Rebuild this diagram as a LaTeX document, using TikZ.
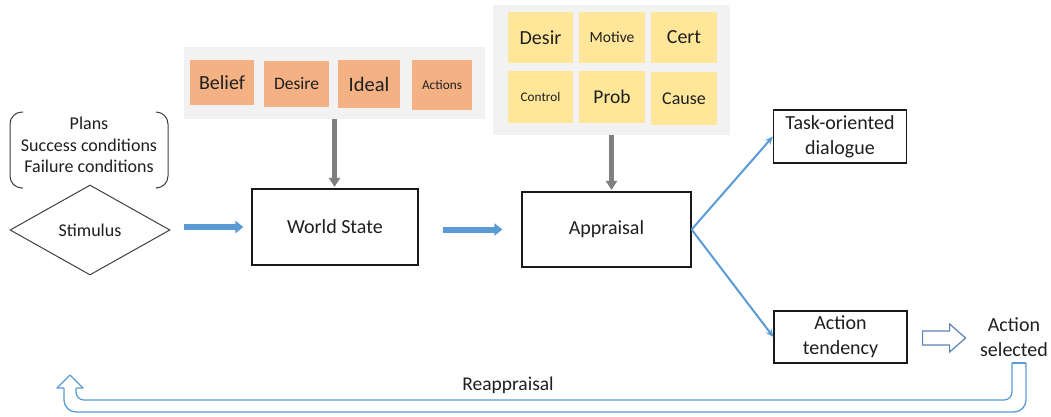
\documentclass[tikz,border=0pt]{standalone}
\usepackage{fontspec}
\setmainfont{Carlito}
\usetikzlibrary{shapes.geometric,arrows.meta,calc}
\definecolor{panelc}{HTML}{F2F2F2}
\definecolor{orangec}{HTML}{F4B183}
\definecolor{yellowc}{HTML}{FFE699}
\definecolor{bluec}{HTML}{5B9BD5}
\definecolor{hollowc}{HTML}{5A82B6}
\definecolor{grayar}{HTML}{7F7F7F}
\definecolor{txt}{HTML}{1F1F1F}
\newcommand\fz[2]{\fontsize{#1}{#2}\selectfont}
\begin{document}
\begin{tikzpicture}[x=1pt,y=-1pt,
  box/.style={draw=black!90, line width=1.2pt, fill=white, inner sep=0pt, align=center, text=txt, font=\fz{20}{25}},
  tile/.style={inner sep=0pt, text=txt},
  otile/.style={tile, fill=orangec},
  ytile/.style={tile, fill=yellowc},
  panel/.style={fill=panelc, inner sep=0pt},
  plain/.style={inner sep=0pt, align=center, text=txt},
  ba/.style={bluec, line width=6pt, -{Triangle[length=8pt,width=12pt]}},
  ga/.style={grayar, line width=4.5pt, -{Triangle[length=9pt,width=11pt]}},
  bl/.style={bluec, line width=2pt, -{Stealth[length=8pt,width=7pt]}},
  ua/.style={bluec, line width=1.3pt, line join=round},
  ha/.style={hollowc, line width=1.2pt, line join=miter},
  outl/.style={black!75, line width=1pt}
]
\fill[white] (0,0) rectangle (1051,416);
\useasboundingbox (0,0) rectangle (1051,416);

% bracket with plans
\node[plain, font=\fz{18}{21.5}] (plans) at (89,145) {Plans\\Success conditions\\Failure conditions};
\draw[outl, rounded corners=12pt] (23,112) -- (10,112) -- (10,188) -- (23,188);
\draw[outl, rounded corners=12pt] (157,112) -- (168,112) -- (168,188) -- (157,188);

% stimulus
\node[diamond, draw=black!75, line width=1pt, minimum width=160pt, minimum height=90pt, inner sep=0pt, aspect=1.78, text=txt, font=\fz{18}{22}] (stim) at (90,230) {Stimulus};

% main boxes
\node[box, minimum width=166pt, minimum height=76pt] (ws) at (335,227) {World State};
\node[box, minimum width=169pt, minimum height=75pt] (app) at (606.5,229.5) {Appraisal};
\node[box, minimum width=133pt, minimum height=53pt] (task) at (840,136.5) {Task-oriented\\dialogue};
\node[box, minimum width=133pt, minimum height=52pt] (tend) at (840.5,337) {Action\\tendency};
\node[plain, font=\fz{20}{25}] (sel) at (1014,337) {Action\\selected};
\node[plain, font=\fz{19.5}{24}] (reap) at (508,385) {Reappraisal};

% orange panel
\node[panel, minimum width=301pt, minimum height=72pt] (op) at (334.5,83) {};
\node[otile, minimum width=64pt, minimum height=45pt, font=\fz{20}{24}] (belief) at (222,82.5) {Belief};
\node[otile, minimum width=65pt, minimum height=46pt, font=\fz{17.5}{21}] (desire) at (296.5,83.5) {Desire};
\node[otile, minimum width=62pt, minimum height=48pt, font=\fz{20.5}{24}] (ideal) at (369,84) {Ideal};
\node[otile, minimum width=60pt, minimum height=50pt, font=\fz{13.3}{16}] (actions) at (442,85) {Actions};

% yellow panel
\node[panel, minimum width=237pt, minimum height=130pt] (yp) at (611.5,70) {};
\node[ytile, minimum width=65pt, minimum height=51pt, font=\fz{20}{24}] (desir) at (540.5,37.5) {Desir};
\node[ytile, minimum width=66pt, minimum height=51pt, font=\fz{15.5}{19}] (motive) at (612,37.5) {Motive};
\node[ytile, minimum width=66pt, minimum height=51pt, font=\fz{20}{24}] (cert) at (684,37.5) {Cert};
\node[ytile, minimum width=65pt, minimum height=52pt, font=\fz{13.2}{16}] (control) at (540.5,97) {Control};
\node[ytile, minimum width=66pt, minimum height=52pt, font=\fz{19.5}{24}] (prob) at (612,97) {Prob};
\node[ytile, minimum width=66pt, minimum height=53pt, font=\fz{18}{22}] (cause) at (684,98.5) {Cause};

% gray arrows
\draw[ga, shorten >=1.5pt] (op.south) -- (op.south |- ws.north);
\draw[ga, shorten >=1.5pt] (yp.south) -- (yp.south |- app.north);

% blue block arrows
\draw[ba, shorten <=13pt, shorten >=8pt] (stim.east |- ws.west) -- (ws.west);
\draw[ba, shorten <=24pt, shorten >=19pt] (ws.east |- app.west) -- (app.west);

% branches
\draw[bl] (app.east) -- (task.west);
\draw[bl] (app.east) -- (tend.west);

% hollow block arrow from Action tendency to Action selected
\coordinate (h0) at ([xshift=15pt,yshift=-1pt]tend.east);
\draw[ha] ($(h0)+(0,-7)$) -- ($(h0)+(27,-7)$) -- ($(h0)+(27,-14)$) -- ($(h0)+(43,0)$)
  -- ($(h0)+(27,14)$) -- ($(h0)+(27,7)$) -- ($(h0)+(0,7)$) -- cycle;

% reappraisal U-turn arrow
\coordinate (ur) at (1026,363);
\coordinate (ul) at (1012,363);
\draw[ua, rounded corners=12pt] (64,388) -- (64,412) -- (1026,412) -- (ur);
\draw[ua, rounded corners=8pt] (ul) -- (1012,400) -- (76,400) -- (76,388);
\draw[ua] (76,388) -- (83,388) -- (70,375) -- (57,388) -- (64,388);
\draw[ua] (ul) -- (ur);
\end{tikzpicture}
\end{document}
